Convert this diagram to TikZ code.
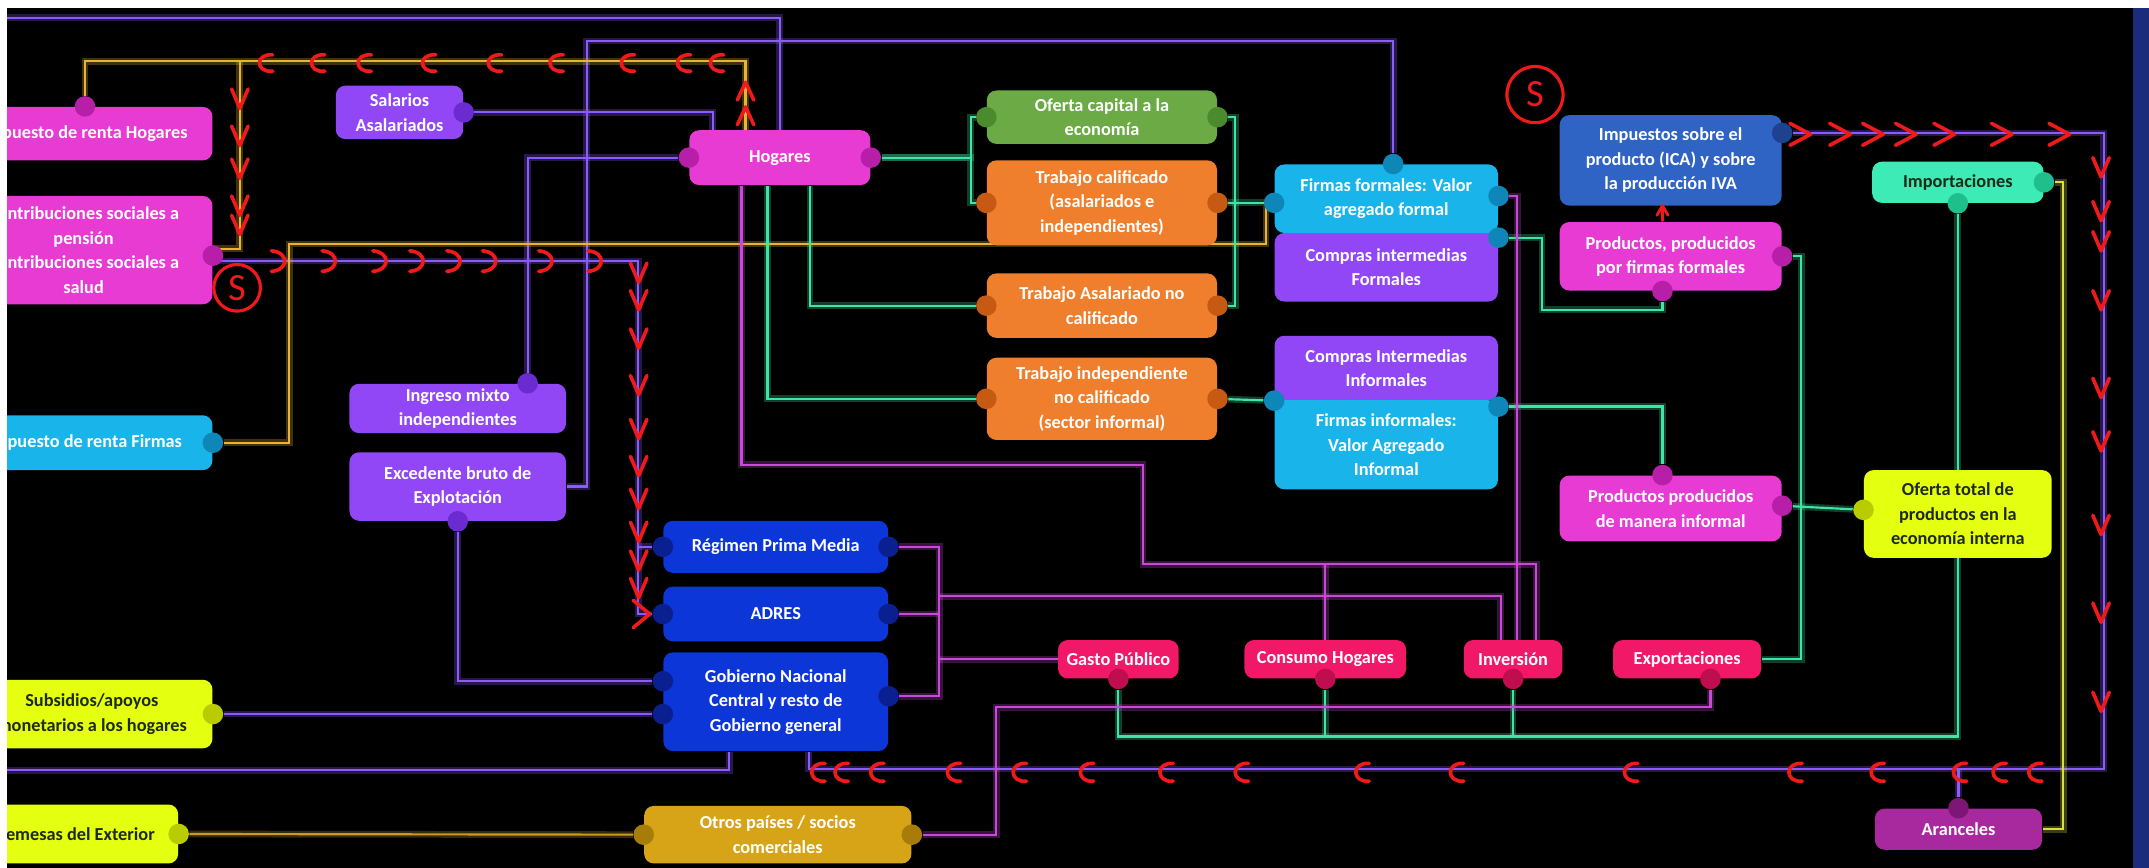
\documentclass[tikz,border=0pt]{standalone}
\usepackage{fontspec}
\setmainfont{Carlito}
\usetikzlibrary{calc}
\pgfdeclarelayer{back}
\pgfdeclarelayer{lines}
\pgfsetlayers{back,lines,main}

\definecolor{magbox}{HTML}{E83BD3}\definecolor{magdot}{HTML}{B81FA8}
\definecolor{cyanbox}{HTML}{18B4EA}\definecolor{cyandot}{HTML}{0E86B8}
\definecolor{purbox}{HTML}{9147F5}\definecolor{purdot}{HTML}{6B2BD0}
\definecolor{grnbox}{HTML}{6BAA45}\definecolor{grndot}{HTML}{4C8A2E}
\definecolor{orgbox}{HTML}{EF7F2C}\definecolor{orgdot}{HTML}{C65A12}
\definecolor{ipbox}{HTML}{2F63C4}\definecolor{ipdot}{HTML}{1E4290}
\definecolor{rblbox}{HTML}{0D36D8}\definecolor{rbldot}{HTML}{0A2090}
\definecolor{prbox}{HTML}{F21868}\definecolor{prdot}{HTML}{C00D4E}
\definecolor{aqbox}{HTML}{3DEBB6}\definecolor{aqdot}{HTML}{1FBF8C}
\definecolor{limbox}{HTML}{E4FF10}\definecolor{limdot}{HTML}{B8CC00}
\definecolor{arbox}{HTML}{A8289E}\definecolor{ardot}{HTML}{7E1676}
\definecolor{gdbox}{HTML}{D6A416}\definecolor{gddot}{HTML}{A87C08}
\definecolor{vio}{HTML}{8A5CFF}\definecolor{mgl}{HTML}{C94AD6}
\definecolor{grl}{HTML}{3FE5A5}\definecolor{yel}{HTML}{E8B432}
\definecolor{lyl}{HTML}{D8E040}\definecolor{gdl}{HTML}{C89A28}
\definecolor{redm}{HTML}{F01A1A}\definecolor{navy}{HTML}{1B2C7A}
\definecolor{darktxt}{HTML}{1E2A18}

\newcommand{\boxfont}{\fontsize{7.6}{10.2}\selectfont\bfseries}

\tikzset{
  box/.style={rounded corners=4pt, align=center, text=white, font=\boxfont, inner sep=1pt},
  sz/.style 2 args={minimum width=#1*0.02cm, minimum height=#2*0.02cm},
  dot/.style={circle, fill=#1, minimum size=0.3cm, inner sep=0pt},
  wire/.style={draw=#1, line width=0.9pt, preaction={draw=#1, line width=2.8pt, opacity=0.28}},
  vline/.style={wire=vio}, mline/.style={wire=mgl}, gline/.style={wire=grl},
  yline/.style={wire=yel}, lline/.style={wire=lyl}, goline/.style={wire=gdl},
  redmark/.style={draw=redm, line width=1.5pt, line cap=round, line join=round},
  smark/.style={draw=redm, text=redm, circle, line width=1.3pt, inner sep=0pt, font=\fontsize{16}{16}\selectfont}
}

\begin{document}
\begin{tikzpicture}[x=0.02cm, y=-0.02cm]
\useasboundingbox (0,0) rectangle (1568,633);
\begin{pgfonlayer}{back}
  \fill[white] (0,0) rectangle (1568,633);
  \fill[black] (5,6) rectangle (1556,633);
  \fill[navy] (1556,6) rectangle (1568,633);
\end{pgfonlayer}

% left column
\node[box, sz={186}{39}, fill=magbox] (renH) at (62,97.5) {Impuesto de renta Hogares};
\node[box, sz={188}{79}, fill=magbox] (contr) at (61,182.5) {Contribuciones sociales a\\pensión\\Contribuciones sociales a\\salud};
\node[box, sz={186}{40}, fill=cyanbox] (renF) at (62,323) {Impuesto de renta Firmas};
\node[box, sz={176}{50}, fill=limbox, text=darktxt] (subs) at (67,521) {Subsidios/apoyos\\monetarios a los hogares};
\node[box, sz={150}{43}, fill=limbox, text=darktxt] (rem) at (55,608.5) {Remesas del Exterior};

% households and factors
\node[box, sz={93}{39}, fill=purbox] (sal) at (291.5,82) {Salarios\\Asalariados};
\node[box, sz={132}{40}, fill=magbox] (hog) at (569,115) {Hogares};
\node[box, sz={158}{36}, fill=purbox] (ingm) at (334,298) {Ingreso mixto\\independientes};
\node[box, sz={158}{50}, fill=purbox] (exc) at (334,355) {Excedente bruto de\\Explotación};
\node[box, sz={168}{39}, fill=grnbox] (ofc) at (804,85.5) {Oferta capital a la\\economía};
\node[box, sz={168}{62}, fill=orgbox] (tcal) at (804,148) {Trabajo calificado\\(asalariados e\\independientes)};
\node[box, sz={168}{47}, fill=orgbox] (tasa) at (804,223) {Trabajo Asalariado no\\calificado};
\node[box, sz={168}{60}, fill=orgbox] (tind) at (804,291) {Trabajo independiente\\no calificado\\(sector informal)};

% firms
\node[box, sz={163}{50}, fill=purbox] (cfor) at (1011.5,195) {Compras intermedias\\Formales};
\node[box, sz={163}{50}, fill=cyanbox] (ffor) at (1011.5,145) {Firmas formales: Valor\\agregado formal};
\node[box, sz={163}{47}, fill=purbox] (cinf) at (1011.5,268.5) {Compras Intermedias\\Informales};
\node[box, sz={163}{65}, fill=cyanbox] (finf) at (1011.5,324.5) {Firmas informales:\\Valor Agregado\\Informal};

% products
\node[box, sz={162}{66}, fill=ipbox] (imp) at (1219,117) {Impuestos sobre el\\producto (ICA) y sobre\\la producción IVA};
\node[box, sz={162}{50}, fill=magbox] (pfor) at (1219,187) {Productos, producidos\\por firmas formales};
\node[box, sz={162}{48}, fill=magbox] (pinf) at (1219,371) {Productos producidos\\de manera informal};
\node[box, sz={125}{30}, fill=aqbox, text=darktxt] (impo) at (1428.5,133) {Importaciones};
\node[box, sz={137}{64}, fill=limbox, text=darktxt] (otot) at (1428.5,375) {Oferta total de\\productos en la\\economía interna};
\node[box, sz={122}{30}, fill=arbox] (aran) at (1429,605) {Aranceles};

% government and demand
\node[box, sz={164}{38}, fill=rblbox] (rpm) at (566,399) {Régimen Prima Media};
\node[box, sz={164}{40}, fill=rblbox] (adres) at (566,448) {ADRES};
\node[box, sz={164}{72}, fill=rblbox] (gob) at (566,512) {Gobierno Nacional\\Central y resto de\\Gobierno general};
\node[box, sz={88}{28}, fill=prbox] (gpub) at (816,481) {Gasto Público};
\node[box, sz={118}{28}, fill=prbox] (chog) at (967,481) {Consumo Hogares};
\node[box, sz={72}{28}, fill=prbox] (inv) at (1104,481) {Inversión};
\node[box, sz={108}{28}, fill=prbox] (expo) at (1231,481) {Exportaciones};
\node[box, sz={195}{42}, fill=gdbox] (otros) at (567.5,609) {Otros países / socios\\comerciales};

% dots
\node[dot=magdot] (renHt) at (renH.north) {};
\node[dot=magdot] (contrR) at ($(contr.east)+(0,4)$) {};
\node[dot=cyandot] (renFR) at (renF.east) {};
\node[dot=limdot] (subsR) at (subs.east) {};
\node[dot=limdot] (remR) at (rem.east) {};
\node[dot=purdot] (salR) at (sal.east) {};
\node[dot=magdot] (hogL) at (hog.west) {};
\node[dot=magdot] (hogR) at (hog.east) {};
\node[dot=purdot] (ingT) at ($(ingm.north)+(51,0)$) {};
\node[dot=purdot] (excB) at (exc.south) {};
\node[dot=grndot] (ofcL) at (ofc.west) {};
\node[dot=grndot] (ofcR) at (ofc.east) {};
\node[dot=orgdot] (tcalL) at (tcal.west) {};
\node[dot=orgdot] (tcalR) at (tcal.east) {};
\node[dot=orgdot] (tasaL) at (tasa.west) {};
\node[dot=orgdot] (tasaR) at (tasa.east) {};
\node[dot=orgdot] (tindL) at (tind.west) {};
\node[dot=orgdot] (tindR) at (tind.east) {};
\node[dot=cyandot] (fforT) at ($(ffor.north)+(5,0)$) {};
\node[dot=cyandot] (fforL) at ($(ffor.west)+(0,3)$) {};
\node[dot=cyandot] (fforR) at ($(ffor.east)+(0,-2)$) {};
\node[dot=cyandot] (fforR2) at ($(ffor.south east)+(0,3)$) {};
\node[dot=cyandot] (cinfL) at (cinf.south west) {};
\node[dot=cyandot] (finfR) at ($(finf.north east)+(0,5)$) {};
\node[dot=ipdot] (impR) at ($(imp.east)+(0,-20)$) {};
\node[dot=magdot] (pforR) at (pfor.east) {};
\node[dot=magdot] (pforB) at ($(pfor.south)+(-6,0)$) {};
\node[dot=magdot] (pinfT) at ($(pinf.north)+(-6,0)$) {};
\node[dot=magdot] (pinfR) at ($(pinf.east)+(0,-2)$) {};
\node[dot=aqdot] (impoR) at (impo.east) {};
\node[dot=aqdot] (impoB) at (impo.south) {};
\node[dot=limdot] (ototL) at ($(otot.west)+(0,-3)$) {};
\node[dot=ardot] (aranT) at (aran.north) {};
\node[dot=rbldot] (rpmL) at (rpm.west) {};
\node[dot=rbldot] (rpmR) at (rpm.east) {};
\node[dot=rbldot] (adrL) at (adres.west) {};
\node[dot=rbldot] (adrR) at (adres.east) {};
\node[dot=rbldot] (gobL1) at ($(gob.west)+(0,-15)$) {};
\node[dot=rbldot] (gobL2) at ($(gob.west)+(0,9)$) {};
\node[dot=rbldot] (gobR) at ($(gob.east)+(0,-4)$) {};
\node[dot=prdot] (gpubB) at (gpub.south) {};
\node[dot=prdot] (chogB) at (chog.south) {};
\node[dot=prdot] (invB) at (inv.south) {};
\node[dot=prdot] (expoB) at ($(expo.south)+(17,0)$) {};
\node[dot=gddot] (otrL) at (otros.west) {};
\node[dot=gddot] (otrR) at (otros.east) {};

\coordinate (topL) at (0,13);
\coordinate (botL) at (0,562);
\coordinate (loopC) at (1535,561);

\begin{pgfonlayer}{lines}
  % violet
  \draw[vline] (topL) -| (hog.north);
  \draw[vline] (salR) -| ($(hog.north)+(-49,0)$);
  \draw[vline] (hogL) -| (ingT);
  \draw[vline] (exc.east) -| (428,30) -| (fforT);
  \draw[vline] ($(contrR)+(0,4)$) -| ($(adrL)+(-18,0)$) -- (adrL);
  \draw[vline] (rpmL) -- ++(-18,0);
  \draw[vline] (subsR) -- (gobL2);
  \draw[vline] (excB) |- (gobL1);
  \draw[vline] (botL) -| ($(gob.south)+(-34,0)$);
  \draw[vline] (impR) -| (loopC) -| ($(gob.south)+(24,0)$);
  \draw[vline] (aranT) -- (aranT |- loopC);
  % yellow
  \draw[yline] (renHt) |- ($(hog.north)+(-25,-50)$) -- ($(hog.north)+(-25,0)$);
  \draw[yline] ($(contrR)+(0,-5)$) -| (175,45);
  \draw[yline] (renFR) -| (211,178) -| ($(fforL)+(-6,0)$) -- (fforL);
  % green
  \draw[gline] (hogR) -- ++(73,0) |- (ofcL);
  \draw[gline] (hogR) -- ++(73,0) |- (tcalL);
  \draw[gline] (ofcR) -- ++(13,0) |- (tasaR);
  \draw[gline] ($(hog.south)+(22,0)$) |- (tasaL);
  \draw[gline] ($(hog.south)+(-9,0)$) |- (tindL);
  \draw[gline] (tcalR) -- (fforL);
  \draw[gline] (tindR) -- (cinfL);
  \draw[gline] (fforR2) -| (1125,226) -| (pforB);
  \draw[gline] (finfR) -| (pinfT);
  \draw[gline] (pforR) -| ($(expo.east)+(29,0)$) -- (expo.east);
  \draw[gline] (pinfR) -- (ototL);
  \draw[gline] (impoB) -- (otot.north);
  \draw[gline] (gpubB) |- ($(otot.south)+(0,130)$) -- (otot.south);
  \draw[gline] (chogB) -- ++(0,42);
  \draw[gline] (invB) -- ++(0,42);
  % magenta
  \draw[mline] ($(hog.south)+(-28,0)$) |- (834,339) |- ($(inv.north)+(17,-55)$) -- ($(inv.north)+(17,0)$);
  \draw[mline] (chog.north) -- ++(0,-55);
  \draw[mline] (fforR) -| ($(inv.north)+(3,0)$);
  \draw[mline] (rpmR) -| ($(gobR)+(37,0)$) -- (gobR);
  \draw[mline] (adrR) -- ++(37,0);
  \draw[mline] (gpub.west) -- ++(-87,0);
  \draw[mline] ($(inv.north)+(-9,0)$) |- (685,435);
  \draw[mline] (expoB) |- (727,516) |- (otrR);
  % others
  \draw[lline] (impoR) -| ($(aran.east)+(15,0)$) -- (aran.east);
  \draw[goline] (remR) -- (otrL);
\end{pgfonlayer}

% red marks
\foreach \x in {193,231,265,312,360,405,457,498,522}
  \draw[redmark] (\x+6,40) .. controls (\x-7,39) and (\x-7,53) .. (\x+6,52);
\foreach \y in {66,84}
  \draw[redmark] (538,\y+7) -- (544,\y-6) -- (550,\y+7);
\foreach \y in {73,100,124,151,165}
  \draw[redmark] (169,\y-8) -- (175,\y+6) -- (181,\y-8);
\foreach \x in {204,241,278,305,332,358,399,435}
  \draw[redmark] (\x-6,183) .. controls (\x+7,184) and (\x+7,197) .. (\x-6,198);
\foreach \y in {200,220,248,282,314,341,365,389,410,430}
  \draw[redmark] (460,\y-8) -- (466,\y+6) -- (472,\y-8);
\draw[redmark] (462,438) -- (474,448) -- (462,458);
\foreach \x in {1314,1343,1367,1391,1419,1461,1503}
  \draw[redmark] (\x-8,90) -- (\x+7,98) -- (\x-8,106);
\foreach \y in {123,155,177,220,284,323,384,448,513}
  \draw[redmark] (1527,\y-8) -- (1533,\y+6) -- (1539,\y-8);
\foreach \x in {596,613,639,695,743,792,850,905,993,1062,1189,1309,1369,1429,1458,1484}
  \draw[redmark] (\x+6,557) .. controls (\x-7,556) and (\x-7,571) .. (\x+6,570);
\draw[redmark, line width=1.2pt] (1213,161) -- (1213,151) (1209,157) -- (1213,150) -- (1217,157);
\node[smark, minimum size=0.68cm] (s1) at (173,210) {S};
\node[smark, minimum size=0.82cm] (s2) at (1120,69) {S};

% white frame
\fill[white] (0,0) rectangle (5,633);
\fill[white] (0,0) rectangle (1568,6);
\end{tikzpicture}
\end{document}
